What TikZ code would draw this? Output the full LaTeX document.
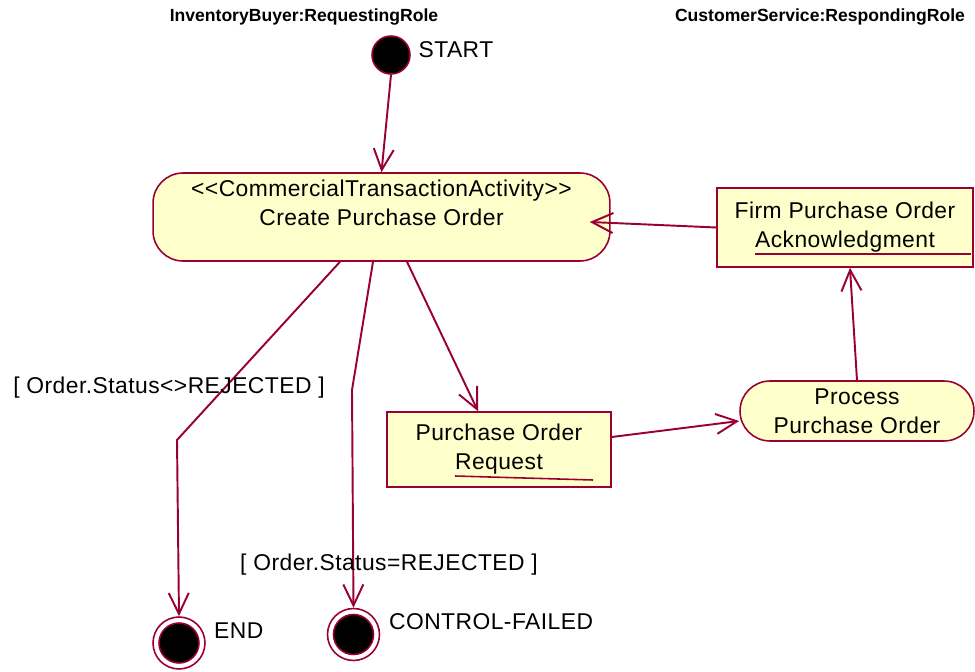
\documentclass[tikz,border=0pt]{standalone}
\usepackage{fontspec}
\setmainfont{Liberation Sans}
\newfontfamily\rosefont{Liberation Sans}[LetterSpace=2]
\usetikzlibrary{arrows.meta, positioning, shapes.misc}
\definecolor{rosered}{RGB}{153,0,51}
\definecolor{roseyellow}{RGB}{255,255,204}
\tikzset{
  activity/.style={
    rectangle,
    rounded corners=0.6cm,
    align=center,
    draw=rosered,
    fill=roseyellow,
    line width=0.9pt,
    font=\rosefont\fontsize{13}{16.5}\selectfont
  },
  object/.style={
    rectangle,
    align=center,
    draw=rosered,
    fill=roseyellow,
    line width=0.9pt,
    font=\rosefont\fontsize{13}{16.5}\selectfont
  },
  initial/.style={
    circle,
    minimum size=0.76cm,
    draw=rosered,
    fill=black,
    line width=0.9pt
  },
  final/.style={
    circle,
    minimum size=1.04cm,
    draw=rosered,
    fill=white,
    line width=0.9pt,
    path picture={
      \filldraw[fill=black, draw=rosered, line width=0.9pt]
        (path picture bounding box.center) circle (0.4cm);
    }
  },
  statelabel/.style={inner sep=0pt, font=\rosefont\fontsize{13}{15}\selectfont},
  guard/.style={inner sep=0pt, font=\rosefont\fontsize{13}{15}\selectfont},
  role/.style={inner sep=0pt, font=\fontsize{10}{12}\selectfont\bfseries},
  flow/.style={
    rosered,
    line width=1.1pt,
    -{Straight Barb[length=0.42cm, width=0.4cm]}
  },
  underline/.style={rosered, line width=0.9pt}
}

\begin{document}
\begin{tikzpicture}[x=0.02cm, y=-0.02cm]
  \useasboundingbox (0,0) rectangle (975,672);

  % swimlane headings
  \node (buyer) [role] at (304,17) {InventoryBuyer:RequestingRole};
  \node (service) [role] at (820,17) {CustomerService:RespondingRole};

  % states
  \node (start) [initial] at (391,55) {};
  \node (startlabel) [statelabel, right=0.15cm of start, yshift=0.1cm] {START};

  \node (create) [activity, minimum width=9.14cm, minimum height=1.76cm] at (381.5,217)
    {{<}{<}CommercialTransactionActivity{>}{>}\\Create Purchase Order\\\mbox{}};
  \node (firm) [object, minimum width=5.12cm, minimum height=1.58cm] at (845,227.5)
    {Firm Purchase Order\\Acknowledgment};
  \node (request) [object, minimum width=4.48cm, minimum height=1.5cm] at (499,449.5)
    {Purchase Order\\Request};
  \node (process) [activity, minimum width=4.68cm, minimum height=1.2cm] at (857,411)
    {Process\\Purchase Order};

  \node (end) [final] at (179,643) {};
  \node (endlabel) [statelabel, right=0.16cm of end, yshift=0.24cm] {END};
  \node (failed) [final] at (353.5,634.5) {};
  \node (failedlabel) [statelabel, right=0.17cm of failed, yshift=0.25cm] {CONTROL-FAILED};

  % object name underlines
  \draw[underline] (755,254) -- (971,254);
  \draw[underline] (455,476) -- (593,480);

  % bend points
  \coordinate (bendend) at (177,440);
  \coordinate (bendfailed) at (352,390);

  % transitions
  \draw[flow] (start.south) -- (create.north);
  \draw[flow] (firm.west) -- ([xshift=-0.42cm, yshift=-0.1cm]create.east);
  \draw[flow] ([xshift=0.51cm]create.south) -- ([xshift=-0.42cm]request.north);
  \draw[flow] ([yshift=0.25cm]request.east) -- ([yshift=-0.2cm]process.west);
  \draw[flow] (process.north) -- ([xshift=0.1cm]firm.south);
  \draw[flow] ([xshift=-0.83cm]create.south) -- (bendend) -- (end.north);
  \draw[flow] ([xshift=-0.17cm]create.south) -- (bendfailed) -- (failed.north);

  % guards
  \node (rejected) [guard] at (169,388) {[ Order.Status{<}{>}REJECTED ]};
  \node (notrejected) [guard] at (389,565) {[ Order.Status=REJECTED ]};
\end{tikzpicture}
\end{document}
